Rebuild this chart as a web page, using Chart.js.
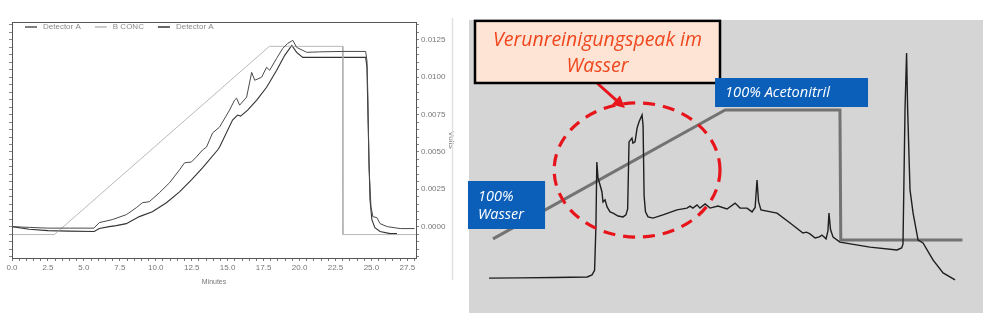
<!DOCTYPE html>
<html>
<head>
<meta charset="utf-8">
<script src="https://cdn.jsdelivr.net/npm/chart.js@4.4.1/dist/chart.umd.min.js"></script>
<style>
    html, body { margin: 0; padding: 0; background: #fff; }
    #wrap { position: relative; width: 996px; height: 329px; overflow: hidden; }
    #left { position: absolute; left: 0; top: 0; }
    #right { position: absolute; left: 466px; top: 0; }
</style>
</head>
<body>
<div id="wrap">
    <canvas id="left" width="466" height="329"></canvas>
    <canvas id="right" width="530" height="329"></canvas>
</div>
<script>
// ---- left panel: printout, minutes vs volts ----
const minuteLabels = [0, 2.5, 5, 7.5, 10, 12.5, 15, 17.5, 20, 22.5, 25, 27.5];
const voltLabels = [0, 0.0025, 0.005, 0.0075, 0.01, 0.0125];

const detectorA1 = [
    [0, 0], [1.2, -0.00005], [2.5, -0.0001], [4, -0.0001], [5.7, -0.0001], [6.07, 0.00027],
    [6.97, 0.00047], [7.95, 0.0008], [8.65, 0.00127], [9.07, 0.0016], [9.55, 0.00167],
    [10.25, 0.00227], [10.95, 0.00293], [11.65, 0.0038], [12.0, 0.00427], [12.48, 0.00433],
    [12.83, 0.00467], [13.25, 0.00513], [13.53, 0.00533], [13.95, 0.00627], [14.44, 0.00667],
    [15.13, 0.0078], [15.48, 0.00847], [15.62, 0.0086], [15.83, 0.00813], [16.32, 0.00867],
    [16.67, 0.01033], [16.88, 0.0098], [17.36, 0.01], [17.71, 0.01067], [17.92, 0.01047],
    [18.41, 0.01127], [18.83, 0.01193], [19.18, 0.01227], [19.53, 0.01247], [19.8, 0.012],
    [20.5, 0.01167], [21.4, 0.0117], [23, 0.01173], [24.6, 0.01173], [24.69, 0.0111],
    [24.76, 0.0085], [24.83, 0.004], [24.97, 0.00133], [25.1, 0.00067], [25.38, 0.0006],
    [25.6, 0.0002], [26.1, 0], [27.0, -0.00013], [28.0, -0.00013]
];
const detectorA2 = [
    [0, 0], [1.2, -0.00018], [2.5, -0.00027], [4, -0.0003], [5.72, -0.00033], [6.07, -0.00013],
    [6.76, 0], [7.25, 0.00007], [7.95, 0.0002], [8.86, 0.00067], [9.76, 0.001], [10.74, 0.0016],
    [11.65, 0.00233], [12.48, 0.00313], [13.25, 0.00393], [14.3, 0.00513], [14.44, 0.00533],
    [15.34, 0.00713], [15.69, 0.00747], [15.9, 0.0074], [16.39, 0.0078], [17.02, 0.00847],
    [17.71, 0.00933], [18.41, 0.01047], [18.97, 0.01147], [19.46, 0.01213], [19.8, 0.01167],
    [20.22, 0.01133], [22, 0.01133], [24.6, 0.01133], [24.69, 0.01067], [24.76, 0.0073],
    [24.9, 0.0018], [25.03, 0.00047], [25.24, -0.00007], [25.6, -0.00033], [26.3, -0.00047],
    [26.78, -0.00047]
];
const bConc = [
    [0, -0.00053], [2.95, -0.00053], [17.9, 0.01207], [23.0, 0.01207], [23.02, -0.00053], [28.1, -0.00053]
];

// ---- right panel: annotated chromatogram (min vs mAU) ----
const gradientLine = [[1.4, 25.3], [14.95, 69.3], [21.65, 69.3], [21.7, 24.9], [28.8, 24.9]];
const uvTrace = [
    [1.17, 11.9], [3.0, 12.0], [5.0, 12.1], [6.9, 12.3], [7.18, 13.0], [7.33, 14.6], [7.41, 30],
    [7.46, 51.5], [7.53, 46.1], [7.65, 43.7], [7.76, 41.3], [7.82, 37.9], [7.94, 38.6], [8.06, 36.2],
    [8.23, 34.5], [8.41, 34.1], [8.70, 33.1], [8.99, 32.8], [9.16, 33.5], [9.26, 35.5], [9.34, 58.4],
    [9.51, 59.7], [9.57, 58.0], [9.69, 58.4], [9.81, 63.1], [9.92, 65.2], [10.1, 67.6], [10.16, 64],
    [10.22, 40], [10.3, 34.5], [10.45, 32.8], [10.74, 32.4], [11.32, 33.5], [12.14, 35.2],
    [12.72, 35.8], [12.9, 36.5], [13.07, 35.8], [13.31, 36.9], [13.48, 35.8], [13.78, 37.2],
    [14.07, 35.8], [14.53, 36.5], [15.06, 35.5], [15.53, 37.5], [15.82, 35.8], [16.23, 35.8],
    [16.52, 34.5], [16.7, 36.0], [16.81, 45.4], [16.9, 38.0], [17.04, 35.2], [17.98, 34.1],
    [18.74, 30.7], [19.49, 27.3], [19.7, 27.6], [19.9, 27.0], [20.2, 25.6], [20.45, 26.0],
    [20.6, 26.6], [20.84, 25.3], [20.95, 28.0], [21.01, 34.1], [21.1, 28.5], [21.25, 25.9],
    [21.65, 24.2], [23.4, 22.5], [24.98, 21.5], [25.25, 22.2], [25.33, 23.5], [25.45, 70.0],
    [25.54, 88.7], [25.6, 70.0], [25.7, 50.0], [25.74, 42.0], [25.92, 34.1], [26.21, 24.9],
    [26.5, 23.9], [27.08, 18.1], [27.67, 13.7], [28.37, 11.3]
];

const toXY = arr => arr.map(p => ({ x: p[0], y: p[1] }));
const isLabel = (v, list) => list.some(l => Math.abs(l - v) < 1e-9);
const printFont = { family: 'Liberation Sans', size: 8 };

const printoutFrame = {
    id: 'printoutFrame',
    afterDraw(chart) {
        const { ctx, chartArea: a } = chart;
        ctx.save();
        ctx.strokeStyle = '#555';
        ctx.lineWidth = 1;
        ctx.strokeRect(a.left + 0.5, a.top + 0.5, a.right - a.left, a.bottom - a.top);

        // legend inside the plot
        ctx.font = '8px "Liberation Sans"';
        ctx.fillStyle = '#8a8a8a';
        ctx.textBaseline = 'middle';
        let x = a.left + 13;
        const y = a.top + 5;
        chart.data.datasets.forEach(ds => {
            ctx.strokeStyle = ds.borderColor;
            ctx.lineWidth = ds.borderWidth + 0.4;
            ctx.beginPath();
            ctx.moveTo(x, y);
            ctx.lineTo(x + 12, y);
            ctx.stroke();
            ctx.fillText(ds.label, x + 18, y);
            x += 18 + ctx.measureText(ds.label).width + 14;
        });

        // scanner edge
        ctx.strokeStyle = '#e2e2e2';
        ctx.beginPath();
        ctx.moveTo(452.5, 18);
        ctx.lineTo(452.5, 280);
        ctx.stroke();
        ctx.restore();
    }
};

new Chart(document.getElementById('left'), {
    type: 'line',
    data: {
        datasets: [
            { label: 'Detector A', data: toXY(detectorA1), borderColor: '#4a4a4a', borderWidth: 1 },
            { label: 'B CONC', data: toXY(bConc), borderColor: '#a8a8a8', borderWidth: 0.8 },
            { label: 'Detector A', data: toXY(detectorA2), borderColor: '#333', borderWidth: 1.1 }
        ]
    },
    options: {
        responsive: false,
        animation: false,
        parsing: false,
        elements: { point: { radius: 0 }, line: { tension: 0 } },
        layout: { padding: { left: 0, top: 22, right: 10, bottom: 40 } },
        plugins: { legend: { display: false }, tooltip: { enabled: false } },
        scales: {
            x: {
                type: 'linear', min: 0, max: 28.1,
                afterBuildTicks: s => {
                    const t = [];
                    for (let i = 0; i <= 56; i++) t.push({ value: i * 0.5 });
                    s.ticks = t;
                },
                afterFit: s => { s.height = 31; },
                ticks: {
                    autoSkip: false, maxRotation: 0, padding: 2, color: '#777', font: printFont,
                    callback: v => isLabel(v, minuteLabels) ? v.toFixed(1) : ''
                },
                grid: { drawOnChartArea: false, tickLength: 3, color: '#777' },
                border: { color: '#555' },
                title: { display: true, text: 'Minutes', color: '#777', font: { family: 'Liberation Sans', size: 7 }, padding: { top: 0, bottom: 3 } }
            },
            yl: {
                type: 'linear', position: 'left', min: -0.0021, max: 0.0137,
                afterBuildTicks: s => {
                    const t = [];
                    for (let i = -4; i <= 27; i++) t.push({ value: i * 0.0005 });
                    s.ticks = t;
                },
                afterFit: s => { s.width = 12; },
                ticks: { display: false },
                grid: { drawOnChartArea: false, tickLength: 3, color: '#888' },
                border: { color: '#555' }
            },
            y: {
                type: 'linear', position: 'right', min: -0.0021, max: 0.0137,
                afterBuildTicks: s => {
                    const t = [];
                    for (let i = -4; i <= 27; i++) t.push({ value: i * 0.0005 });
                    s.ticks = t;
                },
                afterFit: s => { s.width = 40; },
                ticks: {
                    autoSkip: false, padding: 2, color: '#777', font: printFont,
                    callback: v => isLabel(v, voltLabels) ? v.toFixed(4) : ''
                },
                grid: { drawOnChartArea: false, tickLength: 3, color: '#888' },
                border: { color: '#555' },
                title: { display: true, text: 'Volts', color: '#777', font: { family: 'Liberation Sans', size: 8 }, padding: { top: 0, bottom: 2 } }
            }
        }
    },
    plugins: [printoutFrame]
});

// ---- right panel annotations ----
function fitSize(ctx, text, width, style) {
    ctx.font = style + ' 20px "Open Sans"';
    return 20 * width / ctx.measureText(text).width;
}

const scanAnnotations = {
    id: 'scanAnnotations',
    beforeDatasetsDraw(chart) {
        const { ctx, chartArea: a } = chart;
        ctx.save();
        ctx.fillStyle = '#d5d5d5';
        ctx.fillRect(a.left, a.top, a.right - a.left, a.bottom - a.top);
        ctx.restore();
    },
    afterDraw(chart) {
        const { ctx } = chart;
        const sx = chart.scales.x, sy = chart.scales.y;
        const px = v => sx.getPixelForValue(v);
        const py = v => sy.getPixelForValue(v);
        ctx.save();

        // dashed circle round the impurity peaks
        ctx.strokeStyle = '#e8141c';
        ctx.lineWidth = 3.2;
        ctx.setLineDash([12, 8]);
        ctx.beginPath();
        ctx.ellipse(px(9.81), py(48.8), px(9.81 + 4.84) - px(9.81), py(48.8) - py(48.8 + 22.9), 0, 0, Math.PI * 2);
        ctx.stroke();
        ctx.setLineDash([]);

        // arrow from the note
        const ax0 = px(7.47), ay0 = py(78.5), ax1 = px(9.1), ay1 = py(70);
        const ang = Math.atan2(ay1 - ay0, ax1 - ax0);
        ctx.strokeStyle = '#e8141c';
        ctx.fillStyle = '#e8141c';
        ctx.lineWidth = 3;
        ctx.beginPath();
        ctx.moveTo(ax0, ay0);
        ctx.lineTo(ax1 - 8 * Math.cos(ang), ay1 - 8 * Math.sin(ang));
        ctx.stroke();
        ctx.beginPath();
        ctx.moveTo(ax1, ay1);
        ctx.lineTo(ax1 - 12 * Math.cos(ang) + 6 * Math.sin(ang), ay1 - 12 * Math.sin(ang) - 6 * Math.cos(ang));
        ctx.lineTo(ax1 - 12 * Math.cos(ang) - 6 * Math.sin(ang), ay1 - 12 * Math.sin(ang) + 6 * Math.cos(ang));
        ctx.closePath();
        ctx.fill();

        // note box
        const nx0 = px(0.35), nx1 = px(14.65), ny0 = py(99.7), ny1 = py(78.5);
        ctx.fillStyle = '#fde4d5';
        ctx.fillRect(nx0, ny0, nx1 - nx0, ny1 - ny0);
        ctx.strokeStyle = '#000';
        ctx.lineWidth = 2.5;
        ctx.strokeRect(nx0, ny0, nx1 - nx0, ny1 - ny0);
        let fs = fitSize(ctx, 'Verunreinigungspeak im', 209, 'italic');
        ctx.font = 'italic ' + fs + 'px "Open Sans"';
        ctx.fillStyle = '#f0461e';
        ctx.textAlign = 'center';
        ctx.textBaseline = 'alphabetic';
        ctx.fillText('Verunreinigungspeak im', (nx0 + nx1) / 2, ny0 + 25);
        ctx.fillText('Wasser', (nx0 + nx1) / 2, ny0 + 51);

        // blue labels
        ctx.textAlign = 'left';
        const bx0 = px(14.36), bx1 = px(23.29), by0 = py(80.2), by1 = py(70.3);
        ctx.fillStyle = '#0b5fb9';
        ctx.fillRect(bx0, by0, bx1 - bx0, by1 - by0);
        fs = fitSize(ctx, '100% Acetonitril', 105, 'italic');
        ctx.font = 'italic ' + fs + 'px "Open Sans"';
        ctx.fillStyle = '#fff';
        ctx.fillText('100% Acetonitril', bx0 + 10, by0 + 19);

        const wx0 = px(-0.06), wx1 = px(4.44), wy0 = py(45.05), wy1 = py(28.67);
        ctx.fillStyle = '#0b5fb9';
        ctx.fillRect(wx0, wy0, wx1 - wx0, wy1 - wy0);
        fs = fitSize(ctx, 'Wasser', 46, 'italic');
        ctx.font = 'italic ' + fs + 'px "Open Sans"';
        ctx.fillStyle = '#fff';
        ctx.fillText('100%', wx0 + 10, wy0 + 20);
        ctx.fillText('Wasser', wx0 + 10, wy0 + 38);
        ctx.restore();
    }
};

new Chart(document.getElementById('right'), {
    type: 'line',
    data: {
        datasets: [
            { label: 'UV', data: toXY(uvTrace), borderColor: '#1e1e1e', borderWidth: 1.4 },
            { label: 'Gradient', data: toXY(gradientLine), borderColor: '#737373', borderWidth: 3 }
        ]
    },
    options: {
        responsive: false,
        animation: false,
        parsing: false,
        elements: { point: { radius: 0 }, line: { tension: 0 } },
        layout: { padding: { left: 3, top: 20, right: 13, bottom: 16 } },
        plugins: { legend: { display: false }, tooltip: { enabled: false } },
        scales: {
            x: { type: 'linear', min: 0, max: 30, display: false },
            y: { type: 'linear', min: 0, max: 100, display: false }
        }
    },
    plugins: [scanAnnotations]
});
</script>
</body>
</html>
